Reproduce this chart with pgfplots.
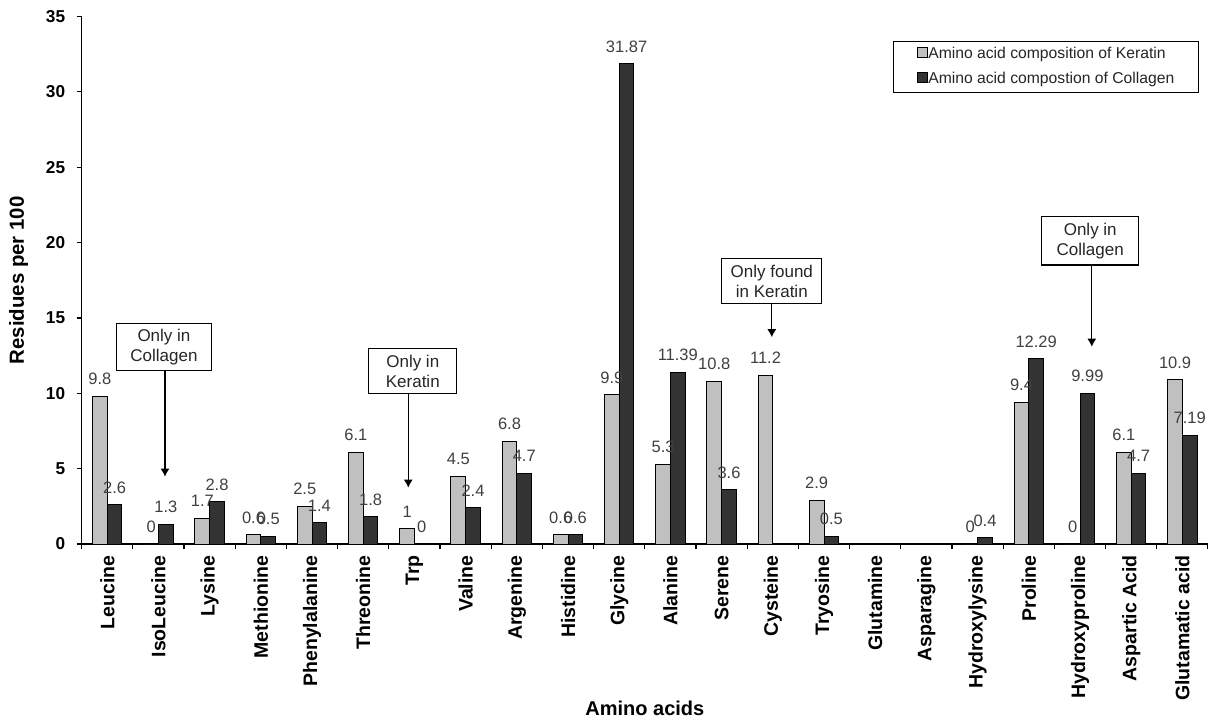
\documentclass[border=0pt]{standalone}
\usepackage{pgfplots}
\pgfplotsset{compat=1.18}
\usepackage{fontspec}
\setmainfont{Liberation Sans}
\usetikzlibrary{arrows.meta}

\definecolor{keratin}{HTML}{C0C0C0}
\definecolor{collagen}{HTML}{333333}
\definecolor{labelgray}{HTML}{404040}

\pgfplotsset{/pgf/number format/assume math mode=true}

% one pixel of the reference = 0.5pt
\begin{document}
\begin{tikzpicture}
\path[use as bounding box] (0pt,0pt) rectangle (604pt,-361pt);
\begin{axis}[
    at={(40.85pt,-272pt)}, anchor=south west,
    scale only axis,
    width=563.15pt, height=263.75pt,
    xmin=-0.5, xmax=21.5,
    ymin=0, ymax=35,
    enlargelimits=false,
    clip=false,
    axis x line*=bottom, axis y line*=left,
    axis line style={-, line width=0.6pt},
    tick align=outside,
    major tick length=2.5pt, minor tick length=2.5pt,
    tick style={black, line width=0.6pt},
    ytick={0,5,...,35},
    xtick={0,...,21},
    major x tick style={draw=none},
    minor xtick={-0.5,0.5,...,21.5},
    xticklabels={Leucine, IsoLeucine, Lysine, Methionine, Phenylalanine,
        Threonine, Trp, Valine, Argenine, Histidine, Glycine, Alanine,
        Serene, Cysteine, Tryosine, Glutamine, Asparagine, Hydroxylysine,
        Proline, Hydroxyproline, Aspartic Acid, Glutamatic acid},
    xticklabel style={rotate=90, anchor=east, inner sep=0pt,
        font=\bfseries\fontsize{9.75}{11}\selectfont},
    yticklabel style={inner sep=0pt, font=\bfseries\fontsize{8.6}{10}\selectfont},
    xticklabel shift=3pt,
    yticklabel shift=5.6pt,
    xlabel={Amino acids},
    ylabel={Residues per 100},
    every axis x label/.style={at={(axis description cs:0.5,-0.311)}, anchor=center,
        font=\bfseries\fontsize{10}{12}\selectfont},
    every axis y label/.style={at={(axis description cs:-0.0561,0.5)}, rotate=90, anchor=center,
        font=\bfseries\fontsize{10.2}{12}\selectfont},
    ybar=0pt, bar width=7.35pt,
    nodes near coords,
    every node near coord/.append style={anchor=south, inner sep=0pt, yshift=5.5pt,
        text=labelgray, font=\fontsize{8.25}{9}\selectfont},
    legend style={at={(axis description cs:0.992,0.9536)}, anchor=north east,
        draw=black, line width=0.6pt, inner xsep=12pt, inner ysep=2.8pt,
        font=\fontsize{7.85}{9}\selectfont, text=black!85,
        nodes={inner sep=0pt, text height=5.6pt, text depth=1.6pt},
        row sep=5pt},
    legend cell align=left,
]

\addplot[fill=keratin, draw=black, line width=0.5pt, bar shift=-3.675pt,
    legend image code/.code={\draw[fill=keratin, draw=black, line width=0.5pt]
        (0pt,-1.5pt) rectangle (5pt,3.5pt);}]
coordinates {
    (0,9.8) (1,0) (2,1.7) (3,0.6) (4,2.5) (5,6.1) (6,1) (7,4.5) (8,6.8)
    (9,0.6) (10,9.9) (11,5.3) (12,10.8) (13,11.2) (14,2.9) (17,0)
    (18,9.4) (19,0) (20,6.1) (21,10.9)
};
\addlegendentry{Amino acid composition of Keratin}

\addplot[fill=collagen, draw=black, line width=0.5pt, bar shift=3.675pt,
    legend image code/.code={\draw[fill=collagen, draw=black, line width=0.5pt]
        (0pt,-1.5pt) rectangle (5pt,3.5pt);}]
coordinates {
    (0,2.6) (1,1.3) (2,2.8) (3,0.5) (4,1.4) (5,1.8) (6,0) (7,2.4) (8,4.7)
    (9,0.6) (10,31.87) (11,11.39) (12,3.6) (14,0.5) (17,0.4)
    (18,12.29) (19,9.99) (20,4.7) (21,7.19)
};
\addlegendentry{Amino acid compostion of Collagen}

% callouts
\tikzset{callout/.style={draw=black, line width=0.6pt, fill=white, align=center,
    anchor=north, inner sep=0pt, font=\fontsize{8.5}{10}\selectfont, text=black!85},
    callarrow/.style={line width=0.6pt, -{Latex[length=4pt,width=4.5pt]}}}
\node[callout, minimum width=47.5pt, minimum height=23.5pt] at (axis cs:1.107,14.67) {Only in\\Collagen};
\draw[callarrow] (axis cs:1.127,11.55) -- (axis cs:1.127,4.47);
\node[callout, minimum width=44pt, minimum height=22.5pt] at (axis cs:5.967,13.0) {Only in\\Keratin};
\draw[callarrow] (axis cs:5.879,10.04) -- (axis cs:5.879,3.74);
\node[callout, minimum width=50pt, minimum height=22.5pt] at (axis cs:12.98,18.96) {Only found\\in Keratin};
\draw[callarrow] (axis cs:12.98,15.98) -- (axis cs:12.98,13.72);
\node[callout, minimum width=48.5pt, minimum height=24.3pt] at (axis cs:19.20,21.78) {Only in\\Collagen};
\draw[callarrow] (axis cs:19.23,18.56) -- (axis cs:19.23,13.09);
\end{axis}
\end{tikzpicture}
\end{document}
